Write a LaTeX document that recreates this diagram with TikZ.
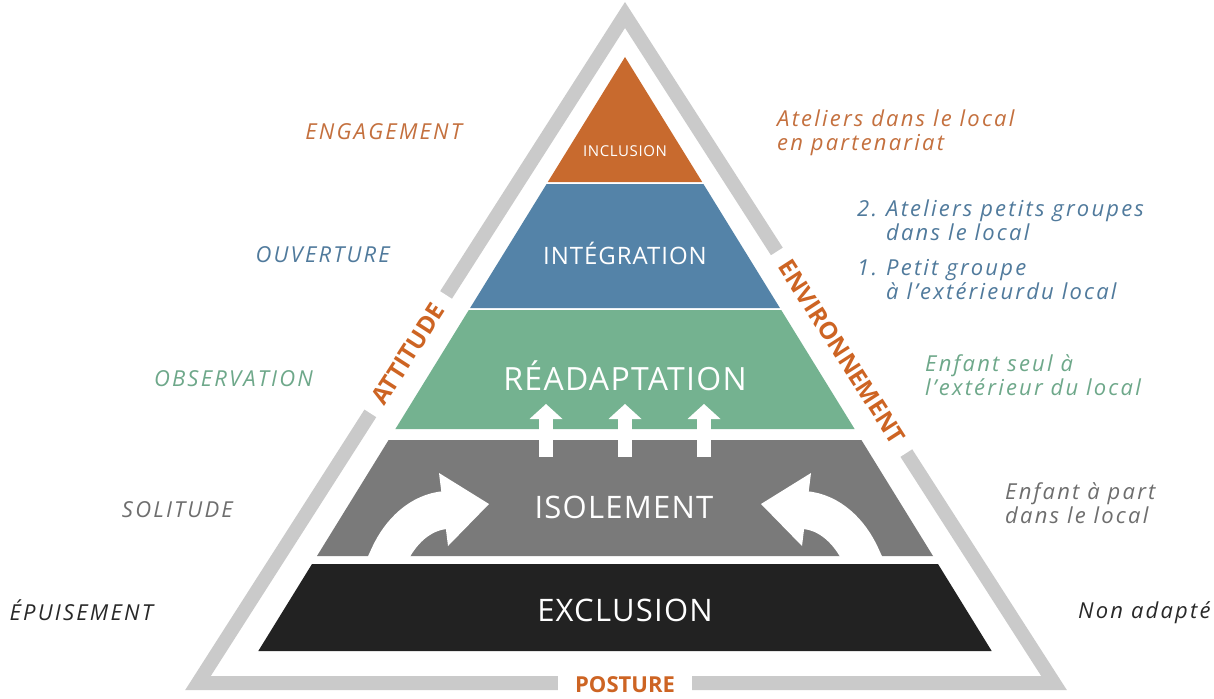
\documentclass[tikz,border=0pt]{standalone}
\usepackage{fontspec}
\setmainfont{Open Sans}
\newfontfamily\sidefont{Open Sans}[LetterSpace=10]
\newfontfamily\layerfont{Open Sans}[LetterSpace=4]
\definecolor{band}{RGB}{202,202,202}
\definecolor{lorange}{RGB}{200,106,46}
\definecolor{lblue}{RGB}{84,131,168}
\definecolor{lgreen}{RGB}{116,178,144}
\definecolor{lgray}{RGB}{122,122,122}
\definecolor{lblack}{RGB}{34,34,34}
\definecolor{torange}{RGB}{196,112,62}
\definecolor{tblue}{RGB}{80,122,156}
\definecolor{tgreen}{RGB}{110,168,138}
\definecolor{tgray}{RGB}{110,110,110}
\definecolor{tblack}{RGB}{40,40,40}
\definecolor{kworange}{RGB}{205,100,35}
\tikzset{
  sidelbl/.style={font={\sidefont\itshape\fontsize{22}{24.5}\selectfont}, inner sep=0pt},
  layerlbl/.style={text=white, inner sep=0pt, anchor=base},
  keylbl/.style={font={\bfseries\fontsize{24}{27}\selectfont}, text=kworange, fill=white, inner xsep=13pt, inner ysep=3pt},
  bandline/.style={draw=band, line width=14pt, line join=miter},
  whiteshape/.style={fill=white},
}
\begin{document}
\begin{tikzpicture}[x=1pt,y=-1pt]
\fill[white] (0,0) rectangle (1214,698);
\useasboundingbox (0,0) rectangle (1214,698);
% outer band
\draw[bandline] (625,15) -- (1054,683) -- (198,683) -- cycle;
% key labels cutting the band
\node[keylbl, rotate=57.3] (attitude) at (408,354) {ATTITUDE};
\node[keylbl, rotate=-57.3] (environnement) at (842,352) {ENVIRONNEMENT};
\node[keylbl, font={\bfseries\fontsize{22}{26}\selectfont}, inner xsep=17pt] (posture) at (625,685) {POSTURE};
% pyramid layers
\fill[lorange] (625,57) -- (702.2,182) -- (547.8,182) -- cycle;
\fill[lblue] (546.6,184) -- (703.4,184) -- (779.9,308) -- (470.1,308) -- cycle;
\fill[lgreen] (468.8,310) -- (781.2,310) -- (854.6,429) -- (395.4,429) -- cycle;
\fill[lgray] (388.6,440) -- (861.4,440) -- (933,556) -- (317,556) -- cycle;
\fill[lblack] (312,564) -- (938,564) -- (991.7,651) -- (258.3,651) -- cycle;
% curved arrows
\begin{scope}
\clip (317,440) rectangle (933,556);
\draw[white, line width=38pt] (384,567) -- (389,556) .. controls (400,532) and (420,512) .. (446,510);
\draw[white, line width=38pt] (866,567) -- (861,556) .. controls (850,532) and (830,512) .. (804,510);
\end{scope}
\fill[whiteshape] (489,504) -- (439,473) -- (448,546) -- cycle;
\fill[whiteshape] (761,504) -- (811,473) -- (802,546) -- cycle;
% up arrows
\foreach \x in {546,625,704} {
  \fill[whiteshape] (\x-7,457) rectangle (\x+7,418);
  \fill[whiteshape] (\x-16.5,419) -- (\x+16.5,419) -- (\x,404) -- cycle;
}
% layer labels
\node[layerlbl, font={\layerfont\fontsize{15}{18}\selectfont}] (inclusion) at (625,156) {INCLUSION};
\node[layerlbl, font={\layerfont\fontsize{24}{28}\selectfont}] (integration) at (625,264) {INTÉGRATION};
\node[layerlbl, font={\layerfont\fontsize{32}{36}\selectfont}] (readaptation) at (625,390) {RÉADAPTATION};
\node[layerlbl, font={\layerfont\fontsize{31}{36}\selectfont}] (isolement) at (624,518) {ISOLEMENT};
\node[layerlbl, font={\layerfont\fontsize{31}{36}\selectfont}] (exclusion) at (625,621) {EXCLUSION};
% left labels
\node[sidelbl, text=torange, anchor=base east] (engagement) at (462,139.5) {ENGAGEMENT};
\node[sidelbl, text=tblue, anchor=base east] (ouverture) at (390,262.5) {OUVERTURE};
\node[sidelbl, text=tgreen, anchor=base east] (observation) at (313,386.5) {OBSERVATION};
\node[sidelbl, text=tgray, anchor=base east] (solitude) at (233,517.5) {SOLITUDE};
\node[sidelbl, text=tblack, anchor=base east] (epuisement) at (153,620) {ÉPUISEMENT};
% right labels
\node[sidelbl, text=torange, anchor=base west] (ateliers) at (777,126)
  {\begin{tabular}[t]{@{}l@{}}Ateliers dans le local\\en partenariat\end{tabular}};
\node[sidelbl, text=tblue, anchor=base west] (deux) at (857,216)
  {\begin{tabular}[t]{@{}l@{}}\makebox[29pt][l]{2.}Ateliers petits groupes\\\hspace*{29pt}dans le local\end{tabular}};
\node[sidelbl, text=tblue, anchor=base west] (un) at (857,275)
  {\begin{tabular}[t]{@{}l@{}}\makebox[29pt][l]{1.}Petit groupe\\\hspace*{29pt}à l’extérieurdu local\end{tabular}};
\node[sidelbl, text=tgreen, anchor=base west] (seul) at (925,371)
  {\begin{tabular}[t]{@{}l@{}}Enfant seul à\\l’extérieur du local\end{tabular}};
\node[sidelbl, text=tgray, anchor=base west] (apart) at (1005,499)
  {\begin{tabular}[t]{@{}l@{}}Enfant à part\\dans le local\end{tabular}};
\node[sidelbl, text=tblack, anchor=base west] (nonadapte) at (1078,618) {Non adapté};
\end{tikzpicture}
\end{document}
